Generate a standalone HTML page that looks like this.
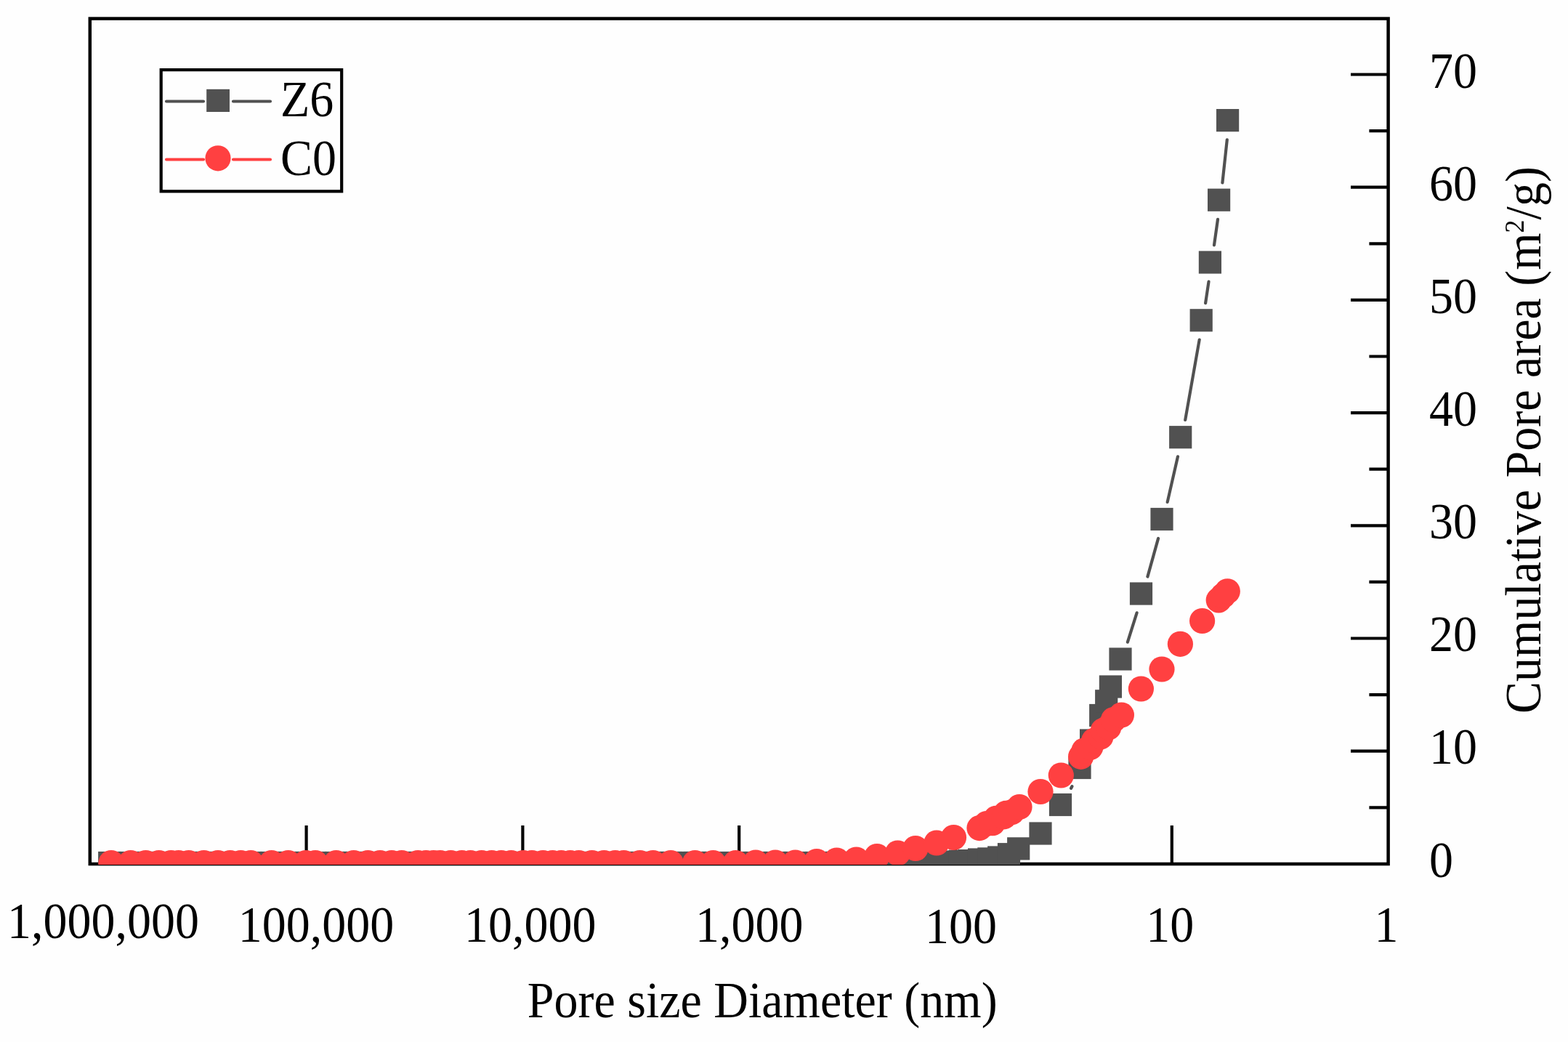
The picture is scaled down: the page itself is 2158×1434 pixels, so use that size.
<!DOCTYPE html>
<html><head><meta charset="utf-8"><title>Cumulative Pore area vs Pore size Diameter</title>
<style>html,body{margin:0;padding:0;background:#FEFEFE;}svg{display:block;}</style></head>
<body><svg width="2158" height="1434" viewBox="0 0 2158 1434">
<rect x="0" y="0" width="2158" height="1434" fill="#FEFEFE"/>
<path d="M421.6 1136V1189.0M719.4 1136V1189.0M1017.2 1136V1189.0M1315.0 1136V1189.0M1612.8 1136V1189.0M1884.4 1111.3H1910.6M1859 1033.7H1910.6M1884.4 956.1H1910.6M1859 878.5H1910.6M1884.4 800.9H1910.6M1859 723.3H1910.6M1884.4 645.7H1910.6M1859 568.1H1910.6M1884.4 490.5H1910.6M1859 412.9H1910.6M1884.4 335.3H1910.6M1859 257.7H1910.6M1884.4 180.1H1910.6M1859 102.5H1910.6" stroke="#000" stroke-width="4.2" fill="none"/>
<rect x="123.8" y="25.6" width="1786.8" height="1163.4" fill="none" stroke="#000" stroke-width="4.5"/>
<defs><clipPath id="c"><rect x="121" y="23" width="1792" height="1167"/></clipPath></defs>
<g clip-path="url(#c)">
<path d="M1474.1 1084.8L1475.4 1082.2M1551.9 883.7L1564.6 843.3M1579.4 793.6L1594.1 740.9M1606.7 690.9L1621.0 628.3M1631.2 578.0L1650.7 467.5M1659.1 417.1L1663.5 387.7M1671.0 337.3L1676.0 301.9M1682.4 251.5L1688.8 192.3" stroke="#515151" stroke-width="4.2" stroke-linecap="round" fill="none"/>
<g fill="#515151"><rect x="135.1" y="1171.9" width="31.2" height="31.2"/><rect x="164.2" y="1171.9" width="31.2" height="31.2"/><rect x="185.0" y="1171.9" width="31.2" height="31.2"/><rect x="203.1" y="1171.9" width="31.2" height="31.2"/><rect x="219.8" y="1171.9" width="31.2" height="31.2"/><rect x="230.2" y="1171.9" width="31.2" height="31.2"/><rect x="244.1" y="1171.9" width="31.2" height="31.2"/><rect x="265.0" y="1171.9" width="31.2" height="31.2"/><rect x="284.4" y="1171.9" width="31.2" height="31.2"/><rect x="301.1" y="1171.9" width="31.2" height="31.2"/><rect x="315.7" y="1171.9" width="31.2" height="31.2"/><rect x="329.6" y="1171.9" width="31.2" height="31.2"/><rect x="358.1" y="1171.9" width="31.2" height="31.2"/><rect x="381.1" y="1171.9" width="31.2" height="31.2"/><rect x="405.3" y="1171.9" width="31.2" height="31.2"/><rect x="418.4" y="1171.9" width="31.2" height="31.2"/><rect x="447.0" y="1171.9" width="31.2" height="31.2"/><rect x="471.3" y="1171.9" width="31.2" height="31.2"/><rect x="490.8" y="1171.9" width="31.2" height="31.2"/><rect x="507.4" y="1171.9" width="31.2" height="31.2"/><rect x="523.4" y="1171.9" width="31.2" height="31.2"/><rect x="537.3" y="1171.9" width="31.2" height="31.2"/><rect x="559.6" y="1171.9" width="31.2" height="31.2"/><rect x="570.7" y="1171.9" width="31.2" height="31.2"/><rect x="581.1" y="1171.9" width="31.2" height="31.2"/><rect x="590.2" y="1171.9" width="31.2" height="31.2"/><rect x="604.8" y="1171.9" width="31.2" height="31.2"/><rect x="620.0" y="1171.9" width="31.2" height="31.2"/><rect x="631.9" y="1171.9" width="31.2" height="31.2"/><rect x="647.2" y="1171.9" width="31.2" height="31.2"/><rect x="661.1" y="1171.9" width="31.2" height="31.2"/><rect x="674.3" y="1171.9" width="31.2" height="31.2"/><rect x="687.9" y="1171.9" width="31.2" height="31.2"/><rect x="704.6" y="1171.9" width="31.2" height="31.2"/><rect x="716.4" y="1171.9" width="31.2" height="31.2"/><rect x="731.7" y="1171.9" width="31.2" height="31.2"/><rect x="744.9" y="1171.9" width="31.2" height="31.2"/><rect x="756.7" y="1171.9" width="31.2" height="31.2"/><rect x="769.2" y="1171.9" width="31.2" height="31.2"/><rect x="781.0" y="1171.9" width="31.2" height="31.2"/><rect x="799.1" y="1171.9" width="31.2" height="31.2"/><rect x="815.8" y="1171.9" width="31.2" height="31.2"/><rect x="831.1" y="1171.9" width="31.2" height="31.2"/><rect x="842.9" y="1171.9" width="31.2" height="31.2"/><rect x="865.1" y="1171.9" width="31.2" height="31.2"/><rect x="883.2" y="1171.9" width="31.2" height="31.2"/><rect x="907.5" y="1171.9" width="31.2" height="31.2"/><rect x="924.4" y="1171.9" width="31.2" height="31.2"/><rect x="940.9" y="1171.9" width="31.2" height="31.2"/><rect x="965.9" y="1171.9" width="31.2" height="31.2"/><rect x="996.9" y="1171.9" width="31.2" height="31.2"/><rect x="1024.4" y="1171.9" width="31.2" height="31.2"/><rect x="1051.4" y="1171.9" width="31.2" height="31.2"/><rect x="1078.9" y="1171.9" width="31.2" height="31.2"/><rect x="1108.4" y="1171.9" width="31.2" height="31.2"/><rect x="1135.9" y="1171.9" width="31.2" height="31.2"/><rect x="1162.9" y="1171.9" width="31.2" height="31.2"/><rect x="1191.4" y="1171.9" width="31.2" height="31.2"/><rect x="1219.9" y="1171.9" width="31.2" height="31.2"/><rect x="1244.4" y="1171.9" width="31.2" height="31.2"/><rect x="1273.4" y="1171.9" width="31.2" height="31.2"/><rect x="1289.9" y="1170.4" width="31.2" height="31.2"/><rect x="1305.7" y="1169.6" width="31.2" height="31.2"/><rect x="1318.4" y="1169.0" width="31.2" height="31.2"/><rect x="1331.9" y="1167.4" width="31.2" height="31.2"/><rect x="1345.3" y="1166.3" width="31.2" height="31.2"/><rect x="1359.1" y="1164.4" width="31.2" height="31.2"/><rect x="1372.9" y="1160.1" width="31.2" height="31.2"/><rect x="1386.1" y="1152.3" width="31.2" height="31.2"/><rect x="1416.4" y="1131.4" width="31.2" height="31.2"/><rect x="1443.9" y="1091.9" width="31.2" height="31.2"/><rect x="1470.4" y="1040.9" width="31.2" height="31.2"/><rect x="1486.0" y="1003.4" width="31.2" height="31.2"/><rect x="1499.1" y="968.9" width="31.2" height="31.2"/><rect x="1507.1" y="949.2" width="31.2" height="31.2"/><rect x="1512.8" y="929.4" width="31.2" height="31.2"/><rect x="1526.4" y="891.4" width="31.2" height="31.2"/><rect x="1554.9" y="801.4" width="31.2" height="31.2"/><rect x="1583.4" y="698.9" width="31.2" height="31.2"/><rect x="1609.1" y="586.1" width="31.2" height="31.2"/><rect x="1637.6" y="425.2" width="31.2" height="31.2"/><rect x="1649.8" y="345.4" width="31.2" height="31.2"/><rect x="1662.0" y="259.6" width="31.2" height="31.2"/><rect x="1674.0" y="150.0" width="31.2" height="31.2"/></g>
<path d="" stroke="#FF4041" stroke-width="3.8" stroke-linecap="round" fill="none"/>
<g fill="#FF4041"><circle cx="153.0" cy="1187.5" r="17.6"/><circle cx="179.8" cy="1187.5" r="17.6"/><circle cx="200.6" cy="1187.5" r="17.6"/><circle cx="218.7" cy="1187.5" r="17.6"/><circle cx="235.4" cy="1187.5" r="17.6"/><circle cx="245.8" cy="1187.5" r="17.6"/><circle cx="259.7" cy="1187.5" r="17.6"/><circle cx="280.6" cy="1187.5" r="17.6"/><circle cx="300.0" cy="1187.5" r="17.6"/><circle cx="316.7" cy="1187.5" r="17.6"/><circle cx="331.3" cy="1187.5" r="17.6"/><circle cx="345.2" cy="1187.5" r="17.6"/><circle cx="373.7" cy="1187.5" r="17.6"/><circle cx="396.7" cy="1187.5" r="17.6"/><circle cx="420.9" cy="1187.5" r="17.6"/><circle cx="434.0" cy="1187.5" r="17.6"/><circle cx="462.6" cy="1187.5" r="17.6"/><circle cx="486.9" cy="1187.5" r="17.6"/><circle cx="506.4" cy="1187.5" r="17.6"/><circle cx="523.0" cy="1187.5" r="17.6"/><circle cx="539.0" cy="1187.5" r="17.6"/><circle cx="552.9" cy="1187.5" r="17.6"/><circle cx="575.2" cy="1187.5" r="17.6"/><circle cx="586.3" cy="1187.5" r="17.6"/><circle cx="596.7" cy="1187.5" r="17.6"/><circle cx="605.8" cy="1187.5" r="17.6"/><circle cx="620.4" cy="1187.5" r="17.6"/><circle cx="635.6" cy="1187.5" r="17.6"/><circle cx="647.5" cy="1187.5" r="17.6"/><circle cx="662.8" cy="1187.5" r="17.6"/><circle cx="676.7" cy="1187.5" r="17.6"/><circle cx="689.9" cy="1187.5" r="17.6"/><circle cx="703.5" cy="1187.5" r="17.6"/><circle cx="720.2" cy="1187.5" r="17.6"/><circle cx="732.0" cy="1187.5" r="17.6"/><circle cx="747.3" cy="1187.5" r="17.6"/><circle cx="760.5" cy="1187.5" r="17.6"/><circle cx="772.3" cy="1187.5" r="17.6"/><circle cx="784.8" cy="1187.5" r="17.6"/><circle cx="796.6" cy="1187.5" r="17.6"/><circle cx="814.7" cy="1187.5" r="17.6"/><circle cx="831.4" cy="1187.5" r="17.6"/><circle cx="846.7" cy="1187.5" r="17.6"/><circle cx="858.5" cy="1187.5" r="17.6"/><circle cx="880.7" cy="1187.5" r="17.6"/><circle cx="898.8" cy="1187.5" r="17.6"/><circle cx="923.1" cy="1187.5" r="17.6"/><circle cx="956.5" cy="1187.5" r="17.6"/><circle cx="981.5" cy="1187.5" r="17.6"/><circle cx="1012.5" cy="1187.5" r="17.6"/><circle cx="1040.0" cy="1187.0" r="17.6"/><circle cx="1067.0" cy="1187.0" r="17.6"/><circle cx="1094.5" cy="1187.0" r="17.6"/><circle cx="1124.0" cy="1185.5" r="17.6"/><circle cx="1151.5" cy="1184.0" r="17.6"/><circle cx="1178.5" cy="1183.0" r="17.6"/><circle cx="1207.0" cy="1178.5" r="17.6"/><circle cx="1235.5" cy="1174.0" r="17.6"/><circle cx="1260.0" cy="1167.5" r="17.6"/><circle cx="1289.0" cy="1160.0" r="17.6"/><circle cx="1312.5" cy="1152.5" r="17.6"/><circle cx="1348.0" cy="1139.6" r="17.6"/><circle cx="1358.0" cy="1133.5" r="17.6"/><circle cx="1366.0" cy="1132.7" r="17.6"/><circle cx="1371.0" cy="1126.3" r="17.6"/><circle cx="1381.7" cy="1123.8" r="17.6"/><circle cx="1384.4" cy="1119.4" r="17.6"/><circle cx="1392.5" cy="1117.7" r="17.6"/><circle cx="1403.0" cy="1110.5" r="17.6"/><circle cx="1432.0" cy="1089.5" r="17.6"/><circle cx="1460.3" cy="1067.0" r="17.6"/><circle cx="1487.6" cy="1041.3" r="17.6"/><circle cx="1492.0" cy="1033.0" r="17.6"/><circle cx="1500.6" cy="1028.6" r="17.6"/><circle cx="1505.7" cy="1019.2" r="17.6"/><circle cx="1514.9" cy="1013.9" r="17.6"/><circle cx="1518.3" cy="1005.4" r="17.6"/><circle cx="1525.8" cy="1001.0" r="17.6"/><circle cx="1532.6" cy="990.5" r="17.6"/><circle cx="1543.4" cy="984.0" r="17.6"/><circle cx="1570.4" cy="948.0" r="17.6"/><circle cx="1599.0" cy="921.0" r="17.6"/><circle cx="1624.4" cy="886.3" r="17.6"/><circle cx="1654.6" cy="854.5" r="17.6"/><circle cx="1677.2" cy="825.9" r="17.6"/><circle cx="1683.2" cy="819.8" r="17.6"/><circle cx="1689.3" cy="813.8" r="17.6"/></g>
</g>
<rect x="221.7" y="96.1" width="248.5" height="167.2" fill="none" stroke="#000" stroke-width="4.2"/>
<path d="M229 139.5H280M321 139.5H372" stroke="#515151" stroke-width="4.2" stroke-linecap="round"/>
<rect x="284.2" y="122.8" width="31.8" height="31.2" fill="#515151"/>
<path d="M229 219.5H280M321 219.5H372" stroke="#FF4041" stroke-width="4.2" stroke-linecap="round"/>
<circle cx="300" cy="217.8" r="17.6" fill="#FF4041"/>
<g font-family="Liberation Serif, Times New Roman, serif" font-size="66" fill="#000"><text transform="translate(386 159.9) scale(1 1.055)" text-anchor="start">Z6</text><text transform="translate(386 240.8) scale(1 1.055)" text-anchor="start">C0</text><text transform="translate(1967 121.4) scale(1 1.055)" text-anchor="start">70</text><text transform="translate(1967 276.4) scale(1 1.055)" text-anchor="start">60</text><text transform="translate(1967 431.4) scale(1 1.055)" text-anchor="start">50</text><text transform="translate(1967 586.4) scale(1 1.055)" text-anchor="start">40</text><text transform="translate(1967 741.4) scale(1 1.055)" text-anchor="start">30</text><text transform="translate(1967 896.4) scale(1 1.055)" text-anchor="start">20</text><text transform="translate(1967 1051.4) scale(1 1.055)" text-anchor="start">10</text><text transform="translate(1967 1206.5) scale(1 1.055)" text-anchor="start">0</text><text transform="translate(141.9 1291.3) scale(1 1.055)" text-anchor="middle">1,000,000</text><text transform="translate(435.1 1295.7) scale(1 1.055)" text-anchor="middle">100,000</text><text transform="translate(729.7 1295.6) scale(1 1.055)" text-anchor="middle">10,000</text><text transform="translate(1031.2 1295.6) scale(1 1.055)" text-anchor="middle">1,000</text><text transform="translate(1322.5 1297.8) scale(1 1.055)" text-anchor="middle">100</text><text transform="translate(1610.2 1296.1) scale(1 1.055)" text-anchor="middle">10</text><text transform="translate(1908.0 1296.1) scale(1 1.055)" text-anchor="middle">1</text><text transform="translate(1049.2 1400.2) scale(1 1.055)" text-anchor="middle">Pore size Diameter (nm)</text><text transform="translate(2119.5 605.5) rotate(-90) scale(1 1.055)" text-anchor="middle">Cumulative Pore area (m<tspan dy="-21" font-size="36">2</tspan><tspan dy="21">/g)</tspan></text></g>
</svg></body></html>
